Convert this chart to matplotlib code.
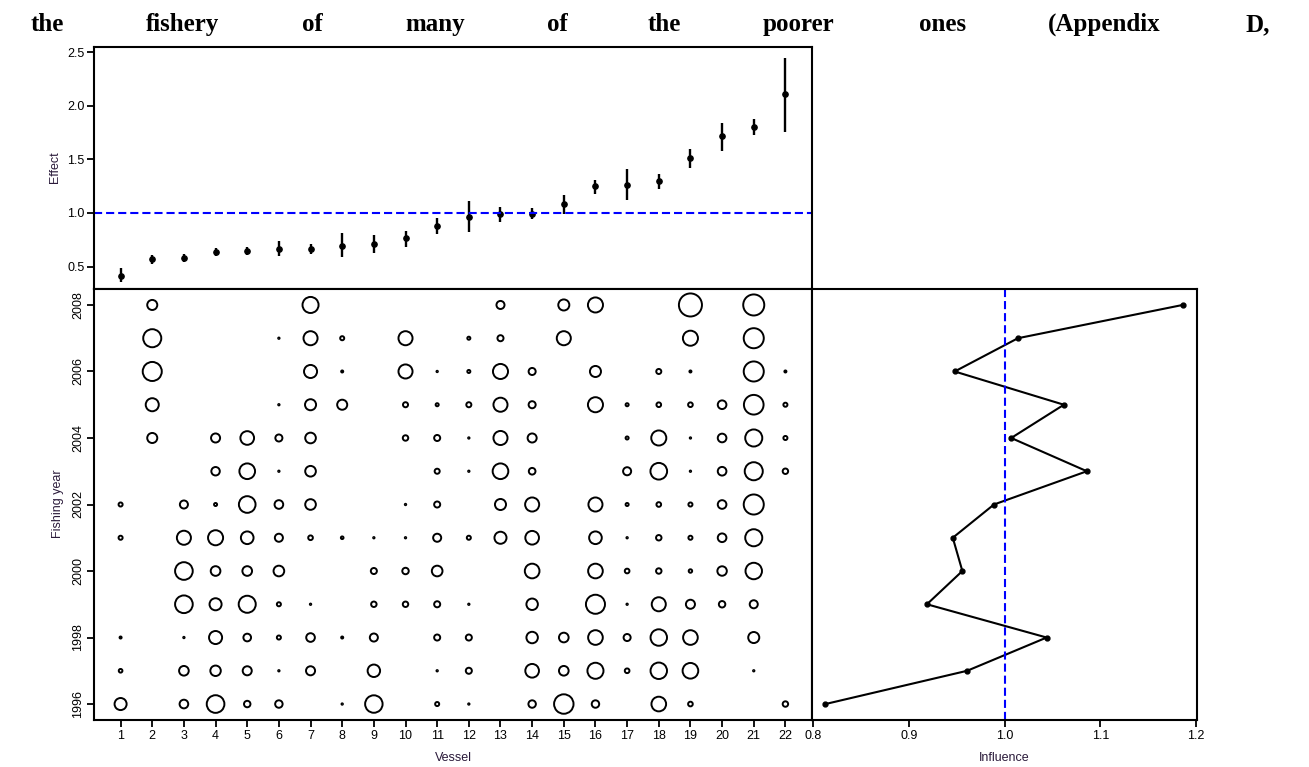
import numpy as np
import matplotlib
matplotlib.use('Agg')
import matplotlib.pyplot as plt

# ---------------- data ----------------
vessels = list(range(1, 23))
effect = [0.415, 0.57, 0.58, 0.635, 0.645, 0.667, 0.667, 0.69, 0.71, 0.766, 0.876,
          0.963, 0.994, 0.994, 1.088, 1.256, 1.265, 1.296, 1.517, 1.717, 1.807, 2.11]
effect_lo = [0.355, 0.52, 0.54, 0.595, 0.61, 0.595, 0.62, 0.59, 0.63, 0.68, 0.80,
             0.82, 0.92, 0.94, 0.994, 1.18, 1.12, 1.22, 1.418, 1.575, 1.73, 1.76]
effect_hi = [0.486, 0.61, 0.615, 0.67, 0.68, 0.735, 0.71, 0.81, 0.79, 0.83, 0.95,
             1.11, 1.06, 1.05, 1.17, 1.305, 1.41, 1.36, 1.595, 1.84, 1.88, 2.45]

years = list(range(1996, 2009))
influence = [0.813, 0.961, 1.044, 0.919, 0.956, 0.946, 0.989,
             1.086, 1.007, 1.062, 0.948, 1.014, 1.186]

# relative record share per vessel (bubble radius scale), one list per year
share_1996 = [7, 0, 5.3, 9.8, 4.2, 4.7, 0, 1.5, 9.7, 0, 3, 1, 0, 4.7, 10.7, 4.7, 0, 8.3, 3.3, 0, 0, 3.7]
share_1997 = [2.8, 0, 5.8, 6.2, 5.5, 1.5, 5.5, 0, 7.2, 0, 1.5, 4, 0, 7.8, 5.8, 9, 3.3, 9.2, 8.8, 0, 1, 0]
share_1998 = [2, 0, 1.2, 7.5, 4.8, 3, 5.3, 2, 5, 0, 4, 4, 0, 6.7, 5.8, 8.3, 4.5, 9.2, 8.3, 0, 6.5, 0]
share_1999 = [0, 0, 9.8, 7, 9.5, 3, 1.5, 0, 3.7, 3.7, 4, 1, 0, 6.7, 0, 10.5, 1.5, 8, 5.5, 4.2, 5, 0]
share_2000 = [0, 0, 9.8, 5.8, 5.8, 6.3, 0, 0, 4, 4.2, 6.3, 0, 0, 8.3, 0, 8.3, 3.3, 3.7, 2.7, 5.7, 9.2, 0]
share_2001 = [3, 0, 8, 8.5, 7.3, 5, 3.3, 2.3, 1.5, 1, 5, 3, 7, 7.8, 0, 7.3, 1.5, 3.7, 3, 5.3, 9.5, 0]
share_2002 = [3, 0, 5, 2.5, 9.3, 5.3, 6.3, 0, 0, 1, 4, 0, 6.5, 8, 0, 8, 2.5, 3.3, 3, 5.3, 11, 0]
share_2003 = [0, 0, 0, 5.2, 8.8, 1.5, 6.3, 0, 0, 0, 3.5, 1, 8.8, 4.3, 0, 0, 5, 9.3, 1, 5.3, 10, 3.7]
share_2004 = [0, 6, 0, 5.5, 7.8, 4.5, 6.3, 0, 0, 3.7, 4, 1.5, 8, 5.5, 0, 0, 2.5, 8.5, 1.5, 5.3, 9.5, 3]
share_2005 = [0, 7.5, 0, 0, 0, 1.5, 6.5, 6, 0, 3.5, 2.5, 3.5, 8, 4.5, 0, 8.5, 2.5, 3.3, 3.3, 5.3, 10.8, 3]
share_2006 = [0, 10.5, 0, 0, 0, 0, 7.5, 2, 0, 8, 1, 2.5, 8.5, 4.5, 0, 6.5, 0, 3.5, 2, 0, 11, 2]
share_2007 = [0, 10, 0, 0, 0, 1.5, 8, 3, 0, 8, 0, 2.5, 4, 0, 8, 0, 0, 0, 8.5, 0, 11, 0]
share_2008 = [0, 6, 0, 0, 0, 0, 9, 0, 0, 0, 0, 0, 5, 0, 6.5, 8.5, 0, 0, 12.5, 0, 11.5, 0]
shares = [share_1996, share_1997, share_1998, share_1999, share_2000, share_2001, share_2002,
          share_2003, share_2004, share_2005, share_2006, share_2007, share_2008]

top_text = ['the', 'fishery', 'of', 'many', 'of', 'the', 'poorer', 'ones', '(Appendix', 'D,']

# ---------------- layout ----------------
W, H = 1309, 767
def box(l, t, r, b):
	return [l / W, 1 - b / H, (r - l) / W, (b - t) / H]

plt.rcParams['font.family'] = ['Liberation Sans', 'DejaVu Sans']
plt.rcParams['axes.linewidth'] = 1.5
fig = plt.figure(figsize=(W / 100, H / 100), dpi=100)

text_x = [31, 146, 302, 405, 547, 648, 763, 919, 1048, 1245]
for w, x in zip(top_text, text_x):
	fig.text(x / W, 1 - 31 / H, w, ha='left', va='baseline', fontsize=18,
			 fontweight='bold', family='Liberation Serif')

ax_top = fig.add_axes(box(94, 47, 812, 289))
ax_bub = fig.add_axes(box(94, 289, 812, 720))
ax_inf = fig.add_axes(box(812, 289, 1197, 720))

tick_kw = dict(length=5, width=1.3, labelsize=9, pad=2)

# top panel: coefficient plot
ax_top.vlines(vessels, effect_lo, effect_hi, color='black', lw=1.7)
ax_top.plot(vessels, effect, 'o', color='black', ms=3.8)
ax_top.axhline(1.0, color='blue', lw=1.5, dashes=(3.9, 1.9))
ax_top.set_xlim(0.16, 22.84)
ax_top.set_ylim(0.29, 2.55)
ax_top.set_yticks([0.5, 1.0, 1.5, 2.0, 2.5])
ax_top.set_yticklabels(['0.5', '1.0', '1.5', '2.0', '2.5'])
ax_top.set_xticks([])
ax_top.tick_params(axis='y', **tick_kw)

# bubble panel: distribution of records
for yr, row in zip(years, shares):
	r = np.array(row, dtype=float)
	keep = r > 0
	ms = np.clip(1.44 * r[keep] - 1.4, 1.0, None)
	ax_bub.scatter(np.array(vessels)[keep], np.full(keep.sum(), yr), s=ms ** 2,
				   facecolors='none', edgecolors='black', linewidths=1.4)
ax_bub.set_xlim(0.16, 22.84)
ax_bub.set_ylim(1995.52, 2008.48)
ax_bub.set_xticks(vessels)
ax_bub.set_yticks(range(1996, 2009, 2))
ax_bub.tick_params(**tick_kw)
for lab in ax_bub.get_yticklabels():
	lab.set_rotation(90)
	lab.set_va('center')

# influence panel
ax_inf.plot(influence, years, '-o', color='black', lw=1.5, ms=3.5)
ax_inf.axvline(1.0, color='blue', lw=1.5, dashes=(3.9, 1.9))
ax_inf.set_xlim(0.799, 1.201)
ax_inf.set_ylim(1995.52, 2008.48)
ax_inf.set_xticks([0.8, 0.9, 1.0, 1.1, 1.2])
ax_inf.set_xticklabels(['0.8', '0.9', '1.0', '1.1', '1.2'])
ax_inf.set_yticks([])
ax_inf.tick_params(axis='x', **tick_kw)

lab_col = '#2a1a3a'
fig.text(55 / W, 1 - 167 / H, 'Effect', rotation=90, ha='center', va='center', fontsize=9, color=lab_col)
fig.text(58 / W, 1 - 504 / H, 'Fishing year', rotation=90, ha='center', va='center', fontsize=9, color=lab_col)
fig.text(453 / W, 1 - 758 / H, 'Vessel', ha='center', va='center', fontsize=9, color=lab_col)
fig.text(1004 / W, 1 - 758 / H, 'Influence', ha='center', va='center', fontsize=9, color=lab_col)

fig.savefig('out.png', dpi=100)
